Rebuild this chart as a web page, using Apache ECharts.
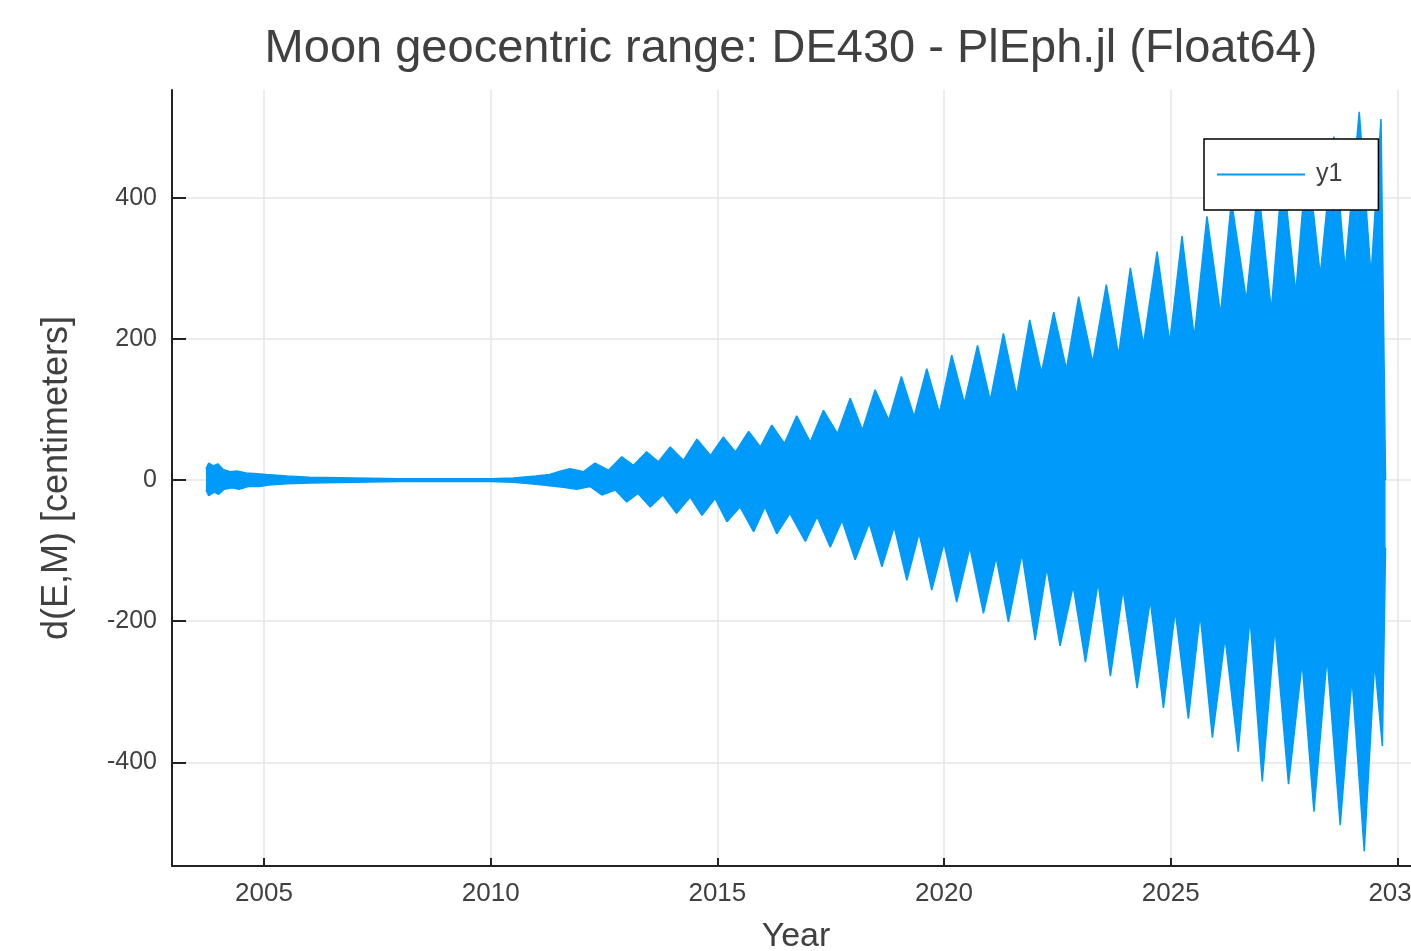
<!DOCTYPE html>
<html>
<head>
<meta charset="utf-8">
<script src="https://cdn.jsdelivr.net/npm/echarts@6/dist/echarts.min.js"></script>
<style>
html,body{margin:0;padding:0;background:#fff;overflow:hidden;}
#chart{width:1420px;height:951px;}
</style>
</head>
<body>
<div id="chart"></div>
<script>
// Upper envelope of the residual (cm)
const upperYears = [2003.72,2003.78,2003.88,2003.98,2004.10,2004.25,2004.40,2004.60,2004.85,2005.05,2005.50,2006.00,2007.00,2008.00,2009.00,2010.00,2010.50,2011.00,2011.30,2011.55,2011.75,2012.05,
2012.30,2012.60,2012.89,2013.15,2013.44,2013.70,2013.96,2014.25,2014.55,2014.85,2015.13,2015.40,2015.69,2015.95,2016.20,2016.48,2016.75,2017.05,2017.34,2017.65,2017.93,2018.20,2018.48,2018.78,2019.06,2019.34,2019.62,2019.90,2020.17,2020.45,2020.74,2021.02,2021.31,2021.60,2021.89,2022.15,2022.42,2022.70,2022.97,2023.28,2023.58,2023.85,2024.11,2024.40,2024.70,2024.98,2025.25,2025.52,2025.80,2026.10,2026.34,2026.67,2026.93,2027.22,2027.47,2027.76,2028.01,2028.30,2028.60,2028.85,2029.16,2029.42,2029.64,2029.74];
const upperValues = [16,24,20,23,15,12,13,10,9,8,6,4,3,2,2,2,3,6,8,13,16,12,
24,14,33,21,40,26,47,28,58,35,61,40,69,47,78,52,91,54,99,66,116,71,128,85,147,90,158,95,177,109,191,113,208,120,227,152,238,157,260,167,277,177,301,192,324,195,346,202,374,235,396,255,418,240,440,265,462,290,487,298,522,290,512,0];

// Lower envelope of the residual (cm)
const lowerYears = [2003.72,2003.78,2003.90,2004.00,2004.12,2004.30,2004.45,2004.65,2004.90,2005.10,2005.50,2006.00,2007.00,2008.00,2009.00,2010.00,2010.50,2011.00,2011.30,2011.60,
2011.90,2012.19,2012.45,2012.75,2013.00,2013.25,2013.52,2013.80,2014.10,2014.40,2014.66,2014.95,2015.21,2015.50,2015.80,2016.05,2016.31,2016.60,2016.94,2017.20,2017.49,2017.75,2018.04,2018.35,2018.63,2018.90,2019.18,2019.45,2019.73,2020.00,2020.28,2020.57,2020.87,2021.15,2021.42,2021.72,2022.01,2022.27,2022.56,2022.85,2023.12,2023.40,2023.67,2023.95,2024.26,2024.55,2024.84,2025.10,2025.39,2025.65,2025.92,2026.20,2026.49,2026.75,2027.02,2027.30,2027.60,2027.90,2028.16,2028.45,2028.74,2029.00,2029.27,2029.50,2029.67,2029.74];
const lowerValues = [-14,-22,-17,-20,-13,-11,-13,-9,-9,-7,-5,-4,-3,-2,-2,-2,-3,-6,-8,-10,
-13,-9,-21,-14,-31,-19,-38,-21,-47,-24,-50,-26,-59,-38,-73,-38,-76,-47,-87,-52,-95,-57,-113,-61,-123,-66,-142,-75,-156,-89,-173,-95,-189,-109,-201,-104,-227,-124,-235,-150,-258,-145,-278,-155,-295,-170,-323,-185,-338,-190,-365,-223,-385,-195,-427,-209,-431,-258,-470,-251,-489,-280,-526,-258,-377,-96];

const xTicks = [2005, 2010, 2015, 2020, 2025, 2030];
const yTicks = [-400, -200, 0, 200, 400];
const seriesName = 'y1';

const BLUE = '#009AFA';
const TXT = '#404040';
const AX = '#222222';
const FONT = 'Liberation Sans, Arial, Helvetica, sans-serif';

const chart = echarts.init(document.getElementById('chart'), null, {renderer: 'canvas'});

function band(years, values) {
  return {
    name: seriesName,
    type: 'line',
    data: years.map((t, i) => [t, values[i]]),
    symbol: 'none',
    showSymbol: false,
    silent: true,
    lineStyle: {color: BLUE, width: 1.5},
    itemStyle: {color: BLUE},
    areaStyle: {color: BLUE, opacity: 1},
    z: 2
  };
}

chart.setOption({
  animation: false,
  backgroundColor: '#fff',
  textStyle: {fontFamily: FONT},
  title: {
    text: 'Moon geocentric range: DE430 - PlEph.jl (Float64)',
    left: 786,
    top: 21,
    textAlign: 'center',
    textStyle: {fontSize: 47, fontWeight: 'normal', color: TXT, fontFamily: FONT}
  },
  legend: {
    data: [{name: seriesName, icon: 'rect'}],
    left: 1204,
    top: 139,
    orient: 'horizontal',
    padding: [23, 36, 23, 13],
    itemWidth: 88,
    itemHeight: 2,
    backgroundColor: '#fff',
    borderColor: '#000',
    borderWidth: 1.5,
    borderRadius: 0,
    selectedMode: false,
    itemStyle: {color: BLUE, borderWidth: 0},
    lineStyle: {width: 0},
    textStyle: {fontSize: 25, color: TXT, fontFamily: FONT, padding: [0, 0, 0, 6]},
    z: 10
  },
  grid: {left: 172, right: 0, top: 90, bottom: 85, containLabel: false, outerBoundsMode: 'none'},
  xAxis: {
    type: 'value',
    min: 2002.97,
    max: 2030.5,
    name: 'Year',
    nameLocation: 'middle',
    nameGap: 54,
    nameTextStyle: {fontSize: 34, color: TXT, fontFamily: FONT},
    axisLine: {show: true, onZero: false, lineStyle: {color: AX, width: 2}},
    axisTick: {show: true, inside: true, length: 8, customValues: xTicks, lineStyle: {color: AX, width: 2}},
    axisLabel: {customValues: xTicks, fontSize: 26, color: TXT, margin: 15, fontFamily: FONT,
      formatter: v => String(v)},
    splitLine: {show: true, lineStyle: {color: '#e6e6e6', width: 1.5}}
  },
  yAxis: {
    type: 'value',
    min: -547,
    max: 553,
    name: 'd(E,M) [centimeters]',
    nameLocation: 'middle',
    nameGap: 97,
    nameTextStyle: {fontSize: 36, color: TXT, fontFamily: FONT},
    axisLine: {show: true, onZero: false, lineStyle: {color: AX, width: 2}},
    axisTick: {show: true, inside: true, length: 14, customValues: yTicks, lineStyle: {color: AX, width: 2}},
    axisLabel: {customValues: yTicks, fontSize: 25, color: TXT, margin: 15, fontFamily: FONT,
      formatter: v => String(v)},
    splitLine: {show: true, lineStyle: {color: '#e6e6e6', width: 1.5}}
  },
  series: [band(upperYears, upperValues), band(lowerYears, lowerValues)]
});
</script>
</body>
</html>
